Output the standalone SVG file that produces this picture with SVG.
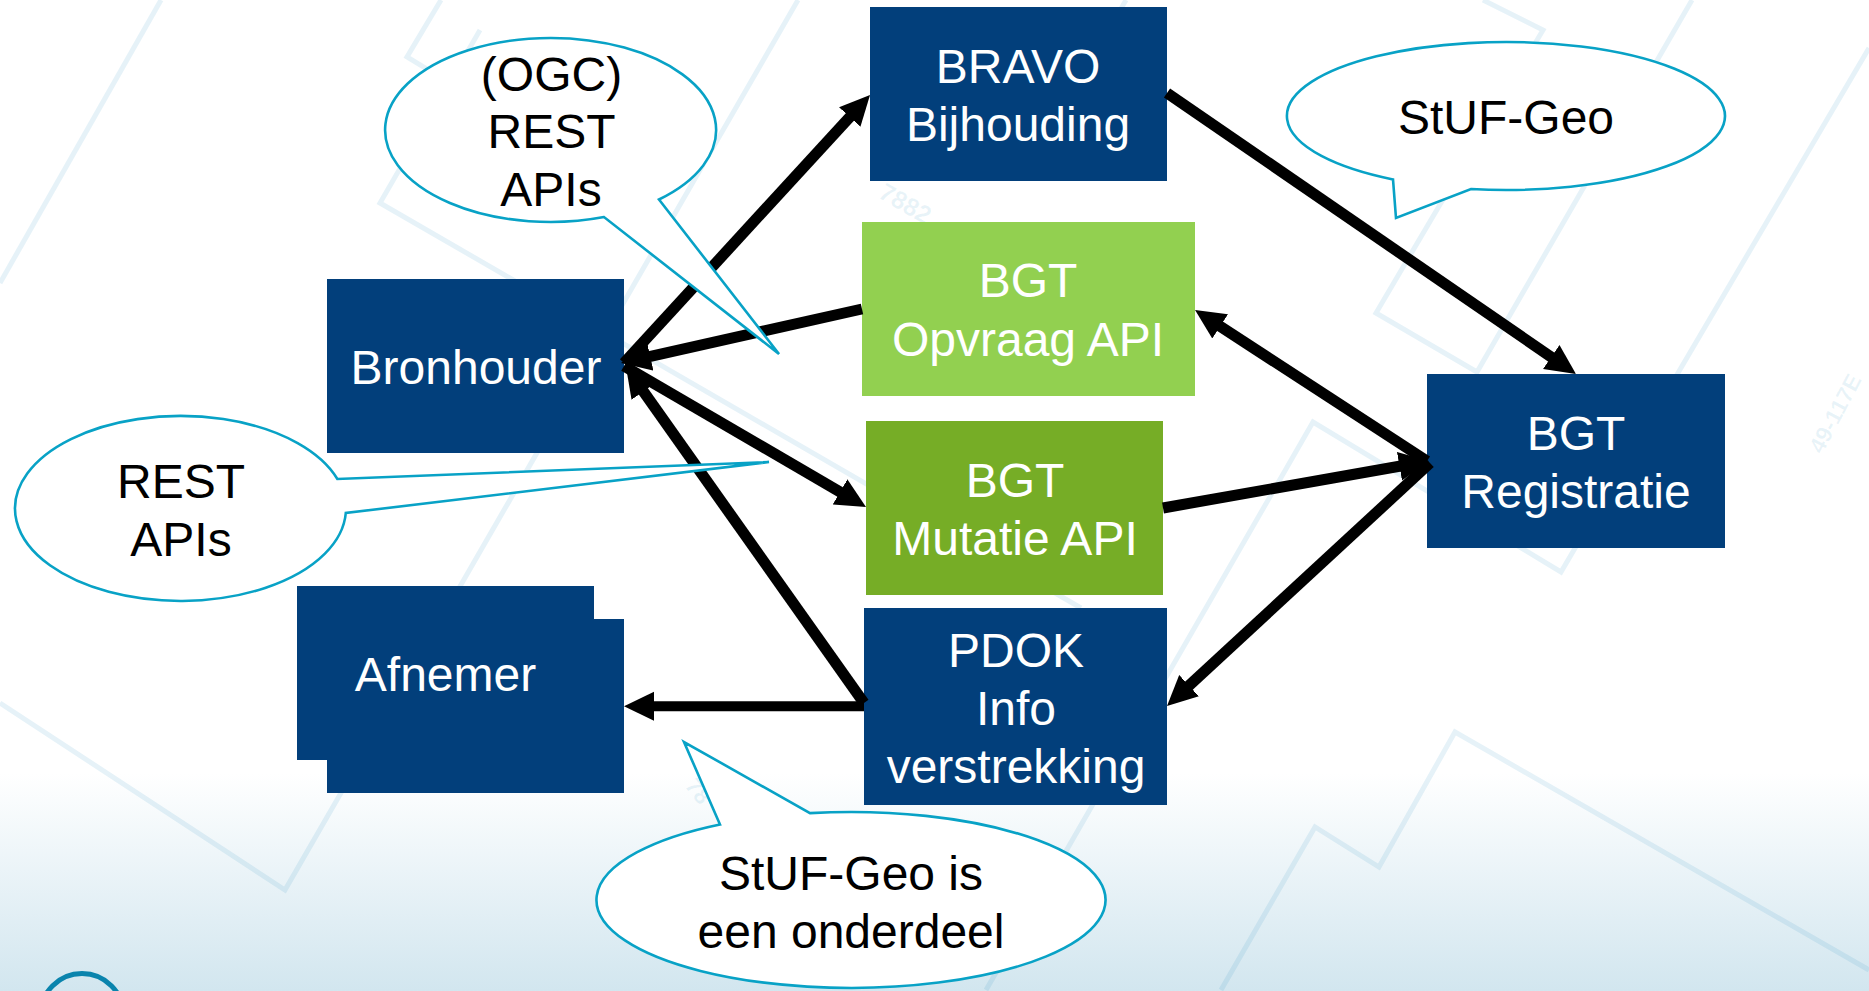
<svg xmlns="http://www.w3.org/2000/svg" width="1869" height="991" viewBox="0 0 1869 991">
<style>
.bl{fill:none;stroke:#0a80b8;stroke-opacity:.1;stroke-width:5}
.wm{font-family:"Liberation Sans",Arial,sans-serif;font-size:23px;font-weight:bold;fill:#0a80b8;fill-opacity:.09}
.n{fill:#023f7b}
.t{font-family:"Liberation Sans",Arial,sans-serif;font-size:48px;text-anchor:middle}
.w{fill:#fff}
.k{fill:#000}
.c{fill:#fff;stroke:#08a2c6;stroke-width:2.6;stroke-linejoin:miter}
.a{stroke:#000;stroke-width:11;fill:none;marker-end:url(#h)}
</style>
<defs>
<linearGradient id="bg" x1="0" y1="0" x2="0" y2="1">
<stop offset="0" stop-color="#fff"/>
<stop offset=".78" stop-color="#fff"/>
<stop offset="1" stop-color="#d2e6ef"/>
</linearGradient>
<marker id="h" markerUnits="userSpaceOnUse" viewBox="0 -15 30 30" markerWidth="30" markerHeight="30" refX="10" refY="0" orient="auto">
<path d="M0,-14.5 L30,0 L0,14.5 Z" fill="#000"/>
</marker>
</defs>
<g id="background">
<rect width="1869" height="991" fill="url(#bg)"/>
<polyline class="bl" points="161,0 0,283"/>
<polyline class="bl" points="441,0 407,57 560,150"/>
<polyline class="bl" points="480,30 380,203 1081,608"/>
<polyline class="bl" points="798,0 285,890 0,703"/>
<polyline class="bl" points="1126,0 1060,115"/>
<polyline class="bl" points="1692,0 1477,372 1376,313 1543,30 1483,0"/>
<polyline class="bl" points="1869,48 1561,572 1313,422 986,990"/>
<polyline class="bl" points="1221,990 1315,827 1379,867 1455,732 1869,970"/>
<text class="wm" style="font-size:25px" transform="translate(877,197) rotate(30)">7882</text>
<text class="wm" transform="translate(1822,455) rotate(-62)">49-117E</text>
<text class="wm" transform="translate(684,786) rotate(52)">78</text>
<circle cx="82" cy="1015" r="41.5" fill="none" stroke="#0a84ad" stroke-width="5"/>
</g>
<g id="node-bravo"><rect class="n" x="870" y="7" width="297" height="174"/>
<text class="t w" x="1018" y="83">BRAVO</text><text class="t w" x="1018" y="141">Bijhouding</text></g>
<g id="node-opvraag"><rect fill="#92d050" x="862" y="222" width="333" height="174"/>
<text class="t w" x="1028" y="297">BGT</text><text class="t w" x="1028" y="356">Opvraag API</text></g>
<g id="node-mutatie"><rect fill="#76ad26" x="866" y="421" width="297" height="174"/>
<text class="t w" x="1015" y="497">BGT</text><text class="t w" x="1015" y="555">Mutatie API</text></g>
<g id="node-pdok"><rect class="n" x="864" y="608" width="303" height="197"/>
<text class="t w" x="1016" y="667">PDOK</text><text class="t w" x="1016" y="725">Info</text><text class="t w" x="1016" y="783">verstrekking</text></g>
<g id="node-registratie"><rect class="n" x="1427" y="374" width="298" height="174"/>
<text class="t w" x="1576" y="450">BGT</text><text class="t w" x="1576" y="508">Registratie</text></g>
<g id="node-bronhouder"><rect class="n" x="327" y="279" width="297" height="174"/>
<text class="t w" x="476" y="384">Bronhouder</text></g>
<g id="node-afnemer"><rect class="n" x="297" y="586" width="297" height="174"/><rect class="n" x="327" y="619" width="297" height="174"/>
<text class="t w" x="445.500" y="691">Afnemer</text></g>
<g id="connectors">
<line class="a" x1="624" y1="363" x2="856.5" y2="109.7"/>
<line class="a" x1="862" y1="309" x2="640.500" y2="358.600"/>
<line class="a" x1="624" y1="366" x2="848.700" y2="496.900"/>
<line class="a" x1="864" y1="703" x2="637.600" y2="383.300"/>
<line class="a" style="stroke-width:10" x1="864" y1="706.300" x2="644" y2="706.300"/>
<line class="a" x1="1167" y1="93" x2="1559.500" y2="362.700"/>
<line class="a" x1="1427" y1="461" x2="1211.800" y2="320.900"/>
<line class="a" x1="1163" y1="508" x2="1409.300" y2="464.500"/>
<line class="a" x1="1430" y1="463" x2="1181.700" y2="692.400"/>
</g>
<g id="callout-ogc"><path class="c" d="M604,217.060 A165.500,92 0 1 1 659,199.500 L779,354 Z"/>
<text class="t k" x="551.500" y="91">(OGC)</text><text class="t k" x="551.500" y="148">REST</text><text class="t k" x="551" y="206">APIs</text></g>
<g id="callout-stuf"><path class="c" d="M1393,179.400 A219,74 0 1 1 1471,189.050 L1396,218 Z"/>
<text class="t k" x="1506" y="134">StUF-Geo</text></g>
<g id="callout-rest"><path class="c" d="M345.800,513 A165.500,92.500 0 1 1 337.400,479 L769,462 Z"/>
<text class="t k" x="181" y="498">REST</text><text class="t k" x="181" y="556">APIs</text></g>
<g id="callout-onderdeel"><path class="c" d="M810,813.100 A254.500,88 0 1 1 720,824.500 L684,742 Z"/>
<text class="t k" x="851" y="890">StUF-Geo is</text><text class="t k" x="851" y="948">een onderdeel</text></g>
</svg>
